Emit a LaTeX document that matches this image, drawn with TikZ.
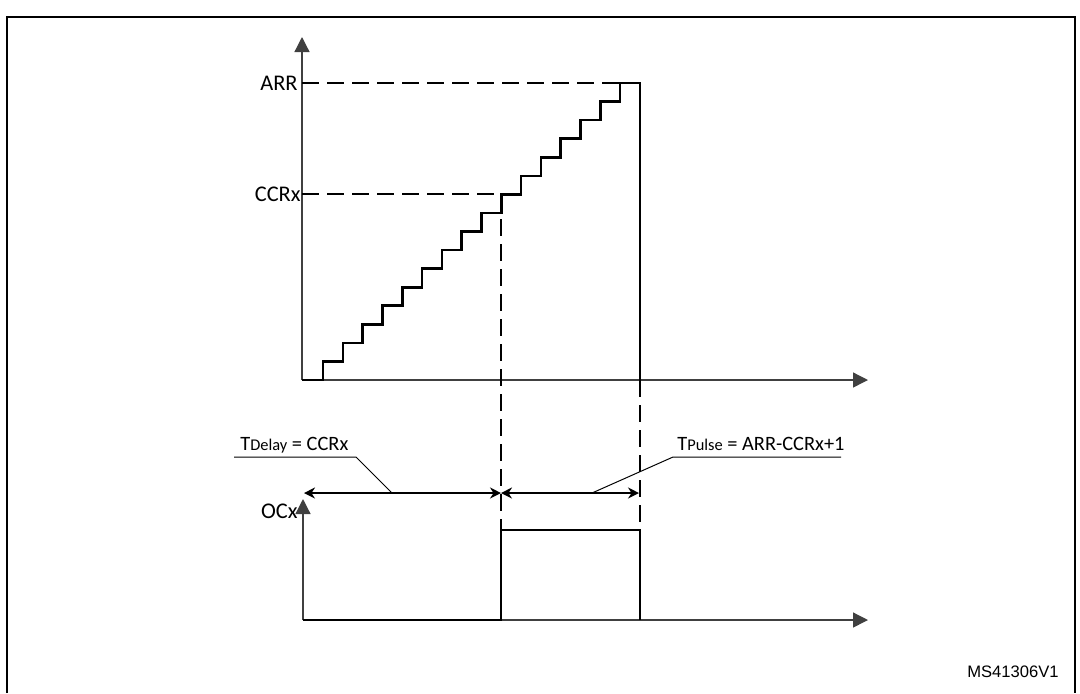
\documentclass[tikz,border=0pt]{standalone}
\usepackage{fontspec}
\setmainfont{Carlito}
\newfontfamily\arialfont{Liberation Sans}
\usetikzlibrary{arrows.meta}
\tikzset{
	axis/.style={line width=0.65pt, draw=black!75, -{Triangle[length=7.5pt,width=7.5pt]}},
	signal/.style={line width=1.3pt, line join=miter},
	guide/.style={line width=1pt, dash pattern=on 8.5pt off 4pt},
	dim/.style={line width=1pt, {Stealth[length=5.5pt,width=5.5pt]}-{Stealth[length=5.5pt,width=5.5pt]}},
	leader/.style={line width=0.5pt},
	lbl/.style={font=\fontsize{11.2}{13}\selectfont, inner sep=0pt},
	note/.style={font=\fontsize{10.2}{12}\selectfont, inner sep=0pt, anchor=base west},
}
\begin{document}
\begin{tikzpicture}[x=0.5pt,y=-0.5pt]
	% Define the variables
	\def\dx{19.8}
	\def\dy{18.5625}
	\def\xccr{501}
	\def\xarr{640}
	
	\useasboundingbox (0,0) rectangle (1080,693);
	
	% Frame
	\draw[line width=1pt] (7,693) -- (7,17) -- (1075,17) -- (1075,693);
	
	% Axes
	\coordinate (O1) at (302,380);
	\coordinate (O2) at (303,620);
	\draw[axis] (O1) -- (868,380);
	\draw[axis] (O1) -- (302,37);
	\draw[axis] (O2) -- (868,620);
	\draw[axis] (O2) -- (303,499);
	
	% Labels
	\node[lbl, anchor=east] (arrlbl) at (298,83) {ARR};
	\node[lbl, anchor=east] (ccrlbl) at (301,194) {CCRx};
	\node[lbl, anchor=east] (oclbl) at (298,511) {OCx};
	
	% Guides
	\coordinate (arrbase) at (302,83);
	\coordinate (ccrbase) at (302,194);
	\coordinate (arrtop) at (620,83);
	\coordinate (ccr) at (\xccr,194);
	\coordinate (ccrlow) at (\xccr,530);
	\coordinate (arrlow) at (\xarr,530);
	\draw[guide] (arrbase) -- (arrtop);
	\draw[guide] (ccrbase) -- (ccr);
	\draw[guide] (ccr) -- (ccrlow);
	\draw[guide] (\xarr,380) -- (arrlow);
	
	% Counter
	\draw[signal] (O1) -- ++(21,0)
		\foreach \k in {1,...,16} { -- ++(0,-\dy) -- ++(\dx,0) }
		-- ++(0,297);
	
	% Output
	\draw[signal] (O2) -- (\xccr,620) -- (ccrlow) -- (arrlow) -- (\xarr,620);
	
	% Delay and pulse
	\coordinate (d0) at (304,493);
	\coordinate (d1) at (\xccr,493);
	\coordinate (d2) at (639,493);
	\draw[dim] (d0) -- (d1);
	\draw[dim] (d1) -- (d2);
	
	\node[note] (tdelay) at (240,450) {T{\fontsize{8.2}{9}\selectfont Delay} = CCRx};
	\node[note] (tpulse) at (677,450) {T{\fontsize{8.2}{9}\selectfont Pulse} = ARR-CCRx+1};
	\draw[leader] (234,457) -- (356,457) -- (392,493);
	\draw[leader] (841,457) -- (673,457) -- (592,493);
	
	\node[font=\arialfont\fontsize{8.3}{10}\selectfont, inner sep=0pt, anchor=base east] (ms) at (1059,677) {MS41306V1};
\end{tikzpicture}
\end{document}
